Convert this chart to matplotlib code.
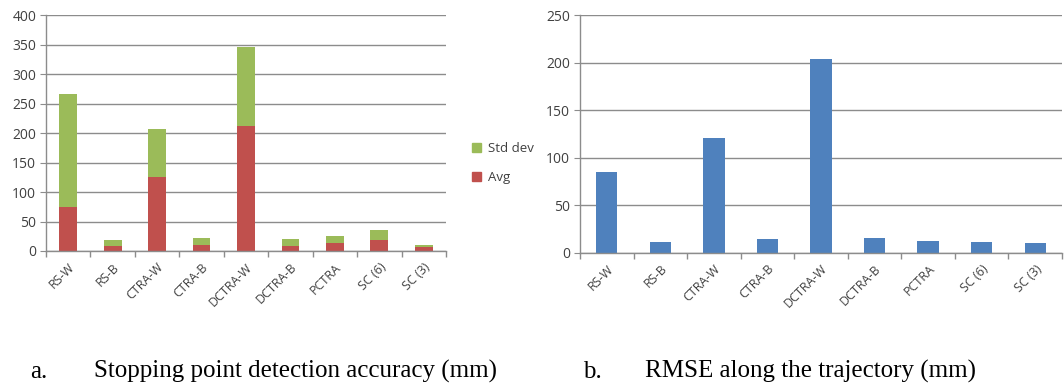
import matplotlib
matplotlib.use("Agg")
import matplotlib.pyplot as plt
from matplotlib.patches import Patch

categories = ["RS-W", "RS-B", "CTRA-W", "CTRA-B", "DCTRA-W", "DCTRA-B", "PCTRA", "SC (6)", "SC (3)"]
avg = [74, 8.5, 126, 10.7, 212, 8.5, 13, 18.6, 6.8]
std_dev = [192, 10, 81, 11.3, 133, 11.5, 13, 17.4, 3.9]
rmse = [84.5, 11, 121, 14.7, 203.7, 15.8, 12.6, 11.2, 9.9]

C_GREEN = "#9BBB59"
C_RED = "#C0504D"
C_BLUE = "#4F81BD"
GRID = "#8c8c8c"
TXT = "#404040"
FONT = "Open Sans"

W, H = 1064, 383
fig = plt.figure(figsize=(W / 100, H / 100), dpi=100)

def px_axes(x0, y_top, x1, y_bot):
    return fig.add_axes([x0 / W, (H - y_bot) / H, (x1 - x0) / W, (y_bot - y_top) / H])

def style(ax, ymax, step):
    n = len(categories)
    ax.set_xlim(-0.5, n - 0.5)
    ax.set_ylim(0, ymax)
    ax.set_yticks(range(0, ymax + 1, step))
    ax.yaxis.grid(True, color=GRID, linewidth=1)
    ax.set_axisbelow(True)
    for s in ["top", "right"]:
        ax.spines[s].set_visible(False)
    for s in ["left", "bottom"]:
        ax.spines[s].set_color(GRID)
        ax.spines[s].set_linewidth(1)
    ax.set_xticks([i for i in range(n)])
    ax.set_xticklabels(categories, rotation=45, ha="right", rotation_mode="anchor",
                       fontsize=9, color=TXT, family=FONT)
    ax.tick_params(axis="x", length=0, pad=7)
    ax.set_xticks([i - 0.5 for i in range(n + 1)], minor=True)
    ax.tick_params(axis="x", which="minor", length=4, color=GRID, width=1)
    ax.tick_params(axis="y", length=4, color=GRID, labelsize=10, labelcolor=TXT, pad=3)
    for lab in ax.get_yticklabels():
        lab.set_family(FONT)

x = list(range(len(categories)))

ax1 = px_axes(46, 15, 446, 251)
ax1.bar(x, avg, width=0.4, color=C_RED, label="Avg")
ax1.bar(x, std_dev, width=0.4, bottom=avg, color=C_GREEN, label="Std dev")
style(ax1, 400, 50)

fig.legend(handles=[Patch(color=C_GREEN, label="Std dev"), Patch(color=C_RED, label="Avg")],
           loc="center left", bbox_to_anchor=(460 / W, (H - 163) / H), frameon=False,
           prop={"family": FONT, "size": 9.5}, labelcolor=TXT, handlelength=0.7,
           handleheight=0.7, handletextpad=0.5, labelspacing=1.2)

ax2 = px_axes(580, 15, 1062, 252.7)
ax2.bar(x, rmse, width=0.4, color=C_BLUE)
style(ax2, 250, 50)

cap_y = (H - 378) / H
kw = dict(family="Liberation Serif", fontsize=18, va="baseline")
fig.text(30 / W, cap_y, "a.", **kw)
fig.text(94 / W, cap_y, "Stopping point detection accuracy (mm)", **kw)
fig.text(583 / W, cap_y, "b.", **kw)
fig.text(645 / W, cap_y, "RMSE along the trajectory (mm)", **kw)

fig.savefig("out.png", dpi=100, facecolor="white")
